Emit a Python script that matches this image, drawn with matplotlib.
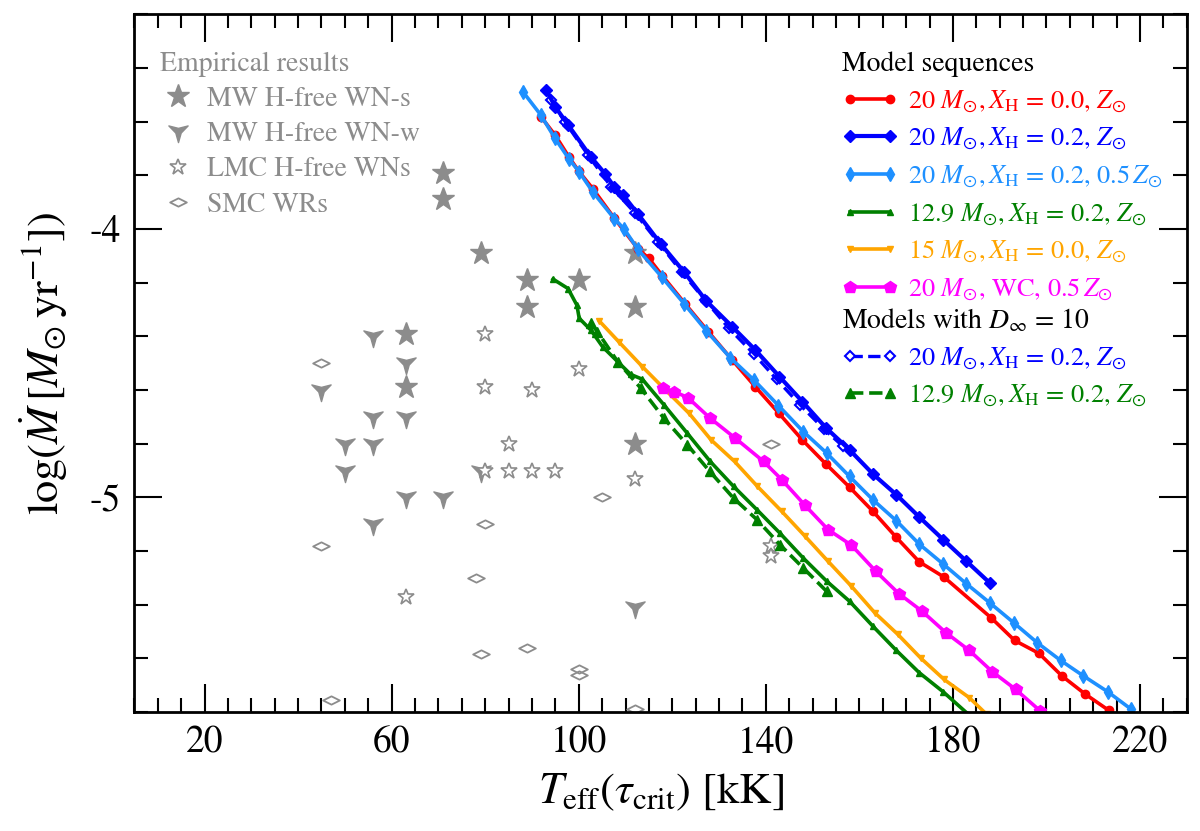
import matplotlib
matplotlib.use("Agg")
import matplotlib.pyplot as plt
import numpy as np
from matplotlib.path import Path
from matplotlib.ticker import MultipleLocator

plt.rcParams['font.family'] = ['STIXGeneral', 'DejaVu Serif']
plt.rcParams['mathtext.fontset'] = 'stix'
plt.rcParams['axes.unicode_minus'] = False

# ---- empirical results (Teff [kK], log Mdot) ----
mw_s_T = [71, 71, 79, 89, 100, 89, 112, 112, 63, 63, 112]
mw_s_M = [-3.79, -3.89, -4.09, -4.19, -4.19, -4.29, -4.09, -4.29, -4.39, -4.59, -4.80]

mw_w_T = [56, 63, 45, 63, 56, 50, 56, 50, 79, 63, 71, 56, 112]
mw_w_M = [-4.40, -4.50, -4.60, -4.70, -4.70, -4.80, -4.80, -4.90, -4.90, -5.00, -5.00, -5.10, -5.41]

lmc_T = [80, 100, 80, 90, 85, 80, 85, 90, 95, 112, 63, 141, 141]
lmc_M = [-4.39, -4.52, -4.59, -4.60, -4.80, -4.90, -4.90, -4.90, -4.90, -4.93, -5.37, -5.18, -5.22]

smc_T = [45, 45, 80, 105, 78, 79, 89, 100, 100, 47, 112, 141]
smc_M = [-4.50, -5.18, -5.10, -5.00, -5.30, -5.585, -5.56, -5.64, -5.66, -5.755, -5.79, -4.80]

# ---- model sequences ----
red_T = [92.0, 95.0, 97.9, 100.0, 103.0, 107.6, 112.6, 115.0, 117.9, 122.8, 127.7, 132.8, 137.7,
         142.8, 147.8, 152.8, 157.9, 162.9, 167.9, 172.8, 178.1, 188.2, 193.2, 198.4, 203.3, 208.3, 213.3]
red_M = [-3.584, -3.652, -3.732, -3.785, -3.85, -3.96, -4.073, -4.11, -4.175, -4.28, -4.383, -4.488, -4.587,
         -4.687, -4.786, -4.875, -4.962, -5.052, -5.149, -5.24, -5.297, -5.449, -5.533, -5.581, -5.665, -5.733, -5.793]

blue_T = [93.0, 95.0, 97.7, 102.6, 105.6, 107.6, 109.4, 112.6, 117.5, 122.5, 127.3, 132.8, 137.7,
          142.9, 147.8, 152.8, 157.9, 162.9, 167.9, 172.8, 177.9, 182.9, 187.9]
blue_M = [-3.481, -3.546, -3.612, -3.732, -3.794, -3.844, -3.872, -3.943, -4.055, -4.16, -4.269, -4.364, -4.45,
          -4.55, -4.643, -4.74, -4.823, -4.913, -4.99, -5.073, -5.157, -5.238, -5.319]

lblue_T = [88.1, 91.9, 94.9, 97.9, 100.1, 103.0, 107.6, 109.7, 112.6, 117.7, 122.5, 127.3, 132.4, 137.4,
           142.7, 148.0, 153.0, 157.9, 162.9, 167.9, 172.8, 177.9, 182.9, 187.9, 193.0, 198.0, 203.0,
           207.9, 213.1, 218.1]
lblue_M = [-3.49, -3.576, -3.662, -3.739, -3.788, -3.862, -3.962, -4.0, -4.075, -4.178, -4.278, -4.38, -4.48,
           -4.562, -4.658, -4.755, -4.835, -4.922, -5.009, -5.087, -5.174, -5.248, -5.322, -5.393, -5.467,
           -5.541, -5.607, -5.665, -5.724, -5.789]

green_T = [94.5, 97.7, 99.6, 100.1, 102.6, 105.1, 108.3, 111.1, 113.6, 118.2, 123.2, 128.1, 133.1, 138.1,
           143.0, 148.0, 153.0, 157.9, 162.9, 167.9, 172.8, 177.9, 183.1]
green_M = [-4.187, -4.222, -4.284, -4.333, -4.377, -4.439, -4.494, -4.542, -4.56, -4.655, -4.761, -4.866,
           -4.959, -5.046, -5.133, -5.226, -5.312, -5.387, -5.48, -5.57, -5.653, -5.724, -5.805]

orange_T = [104.4, 108.7, 113.6, 118.2, 123.6, 128.3, 133.3, 138.2, 143.4, 148.4, 153.3, 158.3, 163.3,
            168.2, 173.2, 178.1, 183.5, 187.2]
orange_M = [-4.343, -4.423, -4.513, -4.594, -4.687, -4.786, -4.866, -4.959, -5.052, -5.145, -5.238, -5.331,
            -5.43, -5.51, -5.60, -5.678, -5.746, -5.808]

mag_T = [118.1, 120.4, 123.3, 128.1, 133.5, 139.5, 143.4, 148.4, 153.3, 158.3, 163.5, 168.4, 173.4,
         178.5, 183.5, 188.4, 193.4, 198.7]
mag_M = [-4.594, -4.606, -4.628, -4.705, -4.78, -4.866, -4.934, -5.03, -5.12, -5.178, -5.275, -5.358,
         -5.424, -5.504, -5.57, -5.649, -5.715, -5.796]

# models with D_inf = 10
blue10_T = [94.0, 97.0, 102.0, 107.0, 112.0, 117.0, 122.0, 127.0, 132.1, 137.4, 142.3, 147.3, 152.4, 156.5]
blue10_M = [-3.52, -3.60, -3.725, -3.845, -3.94, -4.05, -4.16, -4.265, -4.37, -4.465, -4.56, -4.655,
            -4.745, -4.81]
green10_T = [102.6, 104.0, 108.3, 113.3, 118.2, 123.2, 128.0, 133.1, 138.1, 143.0, 148.0, 153.0]
green10_M = [-4.352, -4.383, -4.494, -4.594, -4.705, -4.804, -4.903, -5.003, -5.083, -5.176, -5.263, -5.35]

# custom markers
star3 = Path.unit_regular_star(3, innerCircle=0.28)
wn_w_marker = Path(star3.vertices * np.array([1, -1]), star3.codes)
flat_diamond = Path([(-1, 0), (0, 0.5), (1, 0), (0, -0.5), (-1, 0)],
                    [Path.MOVETO, Path.LINETO, Path.LINETO, Path.LINETO, Path.CLOSEPOLY])

grey = '#8c8c8c'

fig = plt.figure(figsize=(12, 8.31), dpi=100)
ax = fig.add_axes([0.112, 0.143, 0.877, 0.840])

e1, = ax.plot(mw_s_T, mw_s_M, ls='none', marker='*', ms=17, color=grey, mec=grey)
e2, = ax.plot(mw_w_T, mw_w_M, ls='none', marker=wn_w_marker, ms=16, color=grey, mec=grey)
e3, = ax.plot(lmc_T, lmc_M, ls='none', marker='*', ms=12, mfc='white', mec=grey, mew=1.2)
e4, = ax.plot(smc_T, smc_M, ls='none', marker=flat_diamond, ms=12, mfc='none', mec=grey, mew=1.3)

d1, = ax.plot(blue10_T, blue10_M, '--', color='blue', lw=2.4, marker='D', ms=5, mfc='white', mew=1.5)
d2, = ax.plot(green10_T, green10_M, '--', color='green', lw=2.6, marker='^', ms=7)

m1, = ax.plot(red_T, red_M, '-', color='red', lw=2.6, marker='o', ms=6)
m2, = ax.plot(blue_T, blue_M, '-', color='blue', lw=3.0, marker='D', ms=6)
m3, = ax.plot(lblue_T, lblue_M, '-', color='dodgerblue', lw=2.6, marker='d', ms=7)
m4, = ax.plot(green_T, green_M, '-', color='green', lw=2.6, marker='^', ms=5)
m5, = ax.plot(orange_T, orange_M, '-', color='orange', lw=2.6, marker='v', ms=5)
m6, = ax.plot(mag_T, mag_M, '-', color='magenta', lw=2.6, marker='p', ms=9)

ax.set_xlim(5, 230)
ax.set_ylim(-5.8, -3.2)
ax.set_xticks([20, 60, 100, 140, 180, 220])
ax.xaxis.set_minor_locator(MultipleLocator(5))
ax.set_yticks([-4, -5])
ax.set_yticklabels(['-4', '-5'])
ax.yaxis.set_minor_locator(MultipleLocator(0.2))
ax.tick_params(which='both', direction='in', top=True, right=True, labelsize=27, width=1.5)
ax.tick_params(which='major', length=20, pad=10)
ax.tick_params(which='minor', length=10)
for s in ax.spines.values():
    s.set_linewidth(2)

ax.set_xlabel(r'$T_{\rm eff}(\tau_{\rm crit})$ [kK]', fontsize=32, labelpad=8)
ax.set_ylabel(r'log($\dot{M}\,[M_{\odot}\,\mathrm{yr}^{-1}]$)', fontsize=32, labelpad=14)

# legends
leg_kw = dict(frameon=False, handletextpad=0.4, borderaxespad=0.3)
leg1 = ax.legend([e1, e2, e3, e4],
                 ['MW H-free WN-s', 'MW H-free WN-w', 'LMC H-free WNs', 'SMC WRs'],
                 title='Empirical results', loc='upper left', bbox_to_anchor=(0.006, 0.974),
                 handlelength=1.3, labelspacing=0.35, fontsize=20, title_fontsize=20, **leg_kw)
leg1._legend_box.align = 'left'
leg1.get_title().set_color(grey)
for t in leg1.get_texts():
    t.set_color(grey)
ax.add_artist(leg1)

labels_m = [r'20 $M_{\odot}, X_{\rm H}$ = 0.0, $Z_{\odot}$',
            r'20 $M_{\odot}, X_{\rm H}$ = 0.2, $Z_{\odot}$',
            r'20 $M_{\odot}, X_{\rm H}$ = 0.2, 0.5$\,Z_{\odot}$',
            r'12.9 $M_{\odot}, X_{\rm H}$ = 0.2, $Z_{\odot}$',
            r'15 $M_{\odot}, X_{\rm H}$ = 0.0, $Z_{\odot}$',
            r'20 $M_{\odot}$, WC, 0.5$\,Z_{\odot}$']
cols_m = ['red', 'blue', 'dodgerblue', 'green', 'orange', 'magenta']
leg2 = ax.legend([m1, m2, m3, m4, m5, m6], labels_m, title='Model sequences',
                 loc='upper left', bbox_to_anchor=(0.655, 0.973), numpoints=2,
                 handlelength=2.1, labelspacing=0.42, fontsize=19, title_fontsize=20, **leg_kw)
leg2._legend_box.align = 'left'
for t, c in zip(leg2.get_texts(), cols_m):
    t.set_color(c)
ax.add_artist(leg2)

labels_d = [r'20 $M_{\odot}, X_{\rm H}$ = 0.2, $Z_{\odot}$',
            r'12.9 $M_{\odot}, X_{\rm H}$ = 0.2, $Z_{\odot}$']
leg3 = ax.legend([d1, d2], labels_d, title=r'Models with $D_{\infty}$ = 10',
                 loc='upper left', bbox_to_anchor=(0.655, 0.607), numpoints=2,
                 handlelength=2.1, labelspacing=0.4, fontsize=19, title_fontsize=20, **leg_kw)
leg3._legend_box.align = 'left'
for t, c in zip(leg3.get_texts(), ['blue', 'green']):
    t.set_color(c)

fig.savefig('out.png', dpi=100)
